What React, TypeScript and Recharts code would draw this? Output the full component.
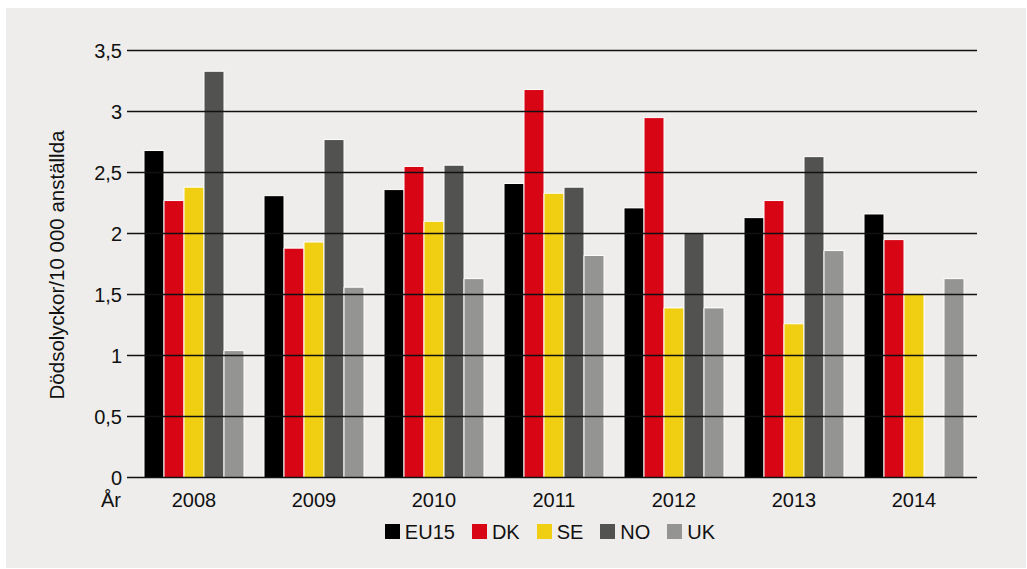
import React from 'react'
import {
  BarChart,
  Bar,
  XAxis,
  YAxis,
  CartesianGrid,
  Legend
} from 'recharts'

const years = ['2008', '2009', '2010', '2011', '2012', '2013', '2014']
const eu15 = [2.68, 2.31, 2.36, 2.41, 2.21, 2.13, 2.16]
const dk = [2.27, 1.88, 2.55, 3.18, 2.95, 2.27, 1.95]
const se = [2.38, 1.93, 2.1, 2.33, 1.39, 1.26, 1.5]
const no = [3.33, 2.77, 2.56, 2.38, 2.0, 2.63, null]
const uk = [1.04, 1.56, 1.63, 1.82, 1.39, 1.86, 1.63]
const yTicks = [0, 0.5, 1, 1.5, 2, 2.5, 3, 3.5]

const series = [
  { key: 'EU15', values: eu15, color: '#000000' },
  { key: 'DK', values: dk, color: '#d80515' },
  { key: 'SE', values: se, color: '#f0cf12' },
  { key: 'NO', values: no, color: '#525250' },
  { key: 'UK', values: uk, color: '#949493' }
]

const data = years.map((year, i) => {
  const row: Record<string, string | number | null> = { year }
  series.forEach(s => { row[s.key] = s.values[i] })
  return row
})

const FONT = "'Liberation Sans', Arial, Helvetica, sans-serif"
const TEXT = '#111111'

const renderLegend = () => (
  <div
    style={{
      display: 'flex',
      justifyContent: 'center',
      alignItems: 'center',
      gap: 17,
      fontFamily: FONT,
      fontSize: 20,
      lineHeight: '20px',
      color: TEXT
    }}
  >
    {series.map(s => (
      <div key={s.key} style={{ display: 'flex', alignItems: 'center' }}>
        <span style={{ width: 15, height: 15, background: s.color, marginRight: 5, display: 'inline-block' }} />
        {s.key}
      </div>
    ))}
  </div>
)

const YLabel = (props: any) => {
  const vb = props.viewBox
  const x = vb.x + 50
  const y = vb.y + vb.height / 2 + 1
  return (
    <text
      x={x}
      y={y}
      transform={`rotate(-90, ${x}, ${y})`}
      textAnchor="middle"
      dominantBaseline="central"
      fill={TEXT}
      fontSize={20.5}
      fontFamily={FONT}
    >
      Dödsolyckor/10 000 anställda
    </text>
  )
}

const XLabel = (props: any) => {
  const vb = props.viewBox
  return (
    <text x={vb.x - 6} y={vb.y + 29.5} textAnchor="end" fill={TEXT} fontSize={20} fontFamily={FONT}>
      År
    </text>
  )
}

export default function App() {
  return (
    <div style={{ position: 'absolute', left: 0, top: 0, width: 1027, height: 569, background: '#ffffff' }}>
      <div style={{ position: 'absolute', left: 6, top: 8, width: 1020, height: 560, background: '#eeedeb' }}>
        <BarChart
          width={1020}
          height={560}
          data={data}
          margin={{ top: 42.5, right: 49, bottom: 45.5, left: 0 }}
          barCategoryGap={10}
          barGap={0}
        >
          <XAxis
            dataKey="year"
            height={45}
            axisLine={false}
            tickLine={false}
            tickSize={0}
            tickMargin={15}
            padding={{ left: 7, right: 3 }}
            tick={{ fill: TEXT, fontSize: 20, fontFamily: FONT }}
            label={{ content: XLabel }}
          />
          <YAxis
            width={121}
            domain={[0, 3.5]}
            ticks={yTicks}
            axisLine={false}
            tickLine={false}
            tickSize={0}
            tickMargin={5}
            tick={{ fill: TEXT, fontSize: 20, fontFamily: FONT }}
            tickFormatter={(v: number) => String(v).replace('.', ',')}
            label={{ content: YLabel }}
          />
          {series.map(s => (
            <Bar
              key={s.key}
              dataKey={s.key}
              fill={s.color}
              stroke="#ffffff"
              strokeWidth={1}
              isAnimationActive={false}
            />
          ))}
          <CartesianGrid
            vertical={false}
            stroke="#111111"
            strokeWidth={1.5}
            zIndex={1000}
          />
          <Legend
            layout="horizontal"
            verticalAlign="middle"
            content={renderLegend}
            wrapperStyle={{ top: 513.5, left: 119, width: 850 }}
          />
        </BarChart>
      </div>
    </div>
  )
}
